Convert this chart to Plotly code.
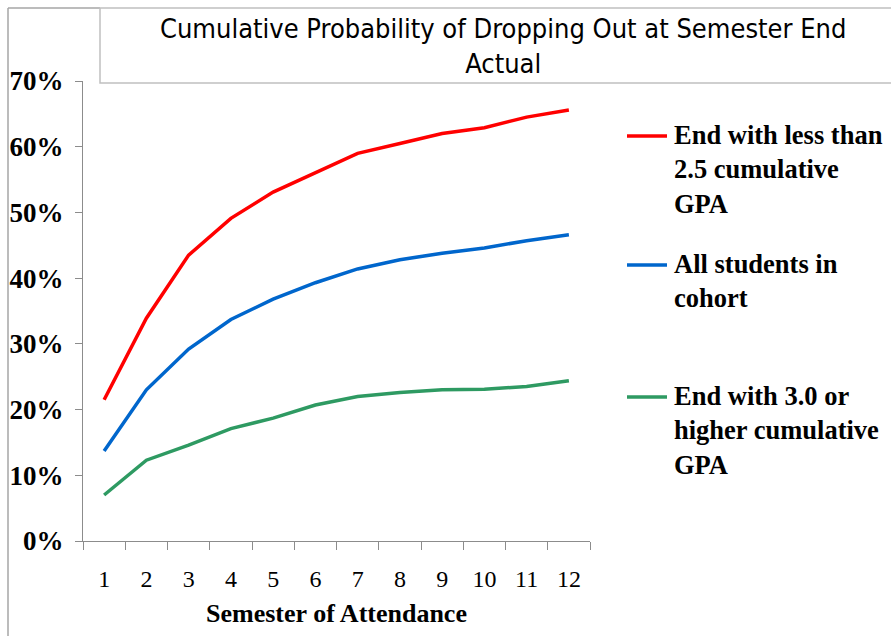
import plotly.graph_objects as go

semesters = ["1", "2", "3", "4", "5", "6", "7", "8", "9", "10", "11", "12"]
low_gpa = [0.215, 0.339, 0.435, 0.491, 0.531, 0.561, 0.590, 0.605, 0.620, 0.629, 0.645, 0.656]
all_students = [0.137, 0.230, 0.292, 0.337, 0.368, 0.393, 0.414, 0.428, 0.438, 0.446, 0.457, 0.466]
high_gpa = [0.070, 0.123, 0.146, 0.171, 0.187, 0.207, 0.220, 0.226, 0.230, 0.231, 0.235, 0.244]

names = ["End with less than<br>2.5 cumulative<br>GPA",
         "All students in<br>cohort",
         "End with 3.0 or<br>higher cumulative<br>GPA"]
colors = ["#FF0000", "#0066CC", "#2E9A62"]
series = [low_gpa, all_students, high_gpa]

W, H = 891, 636
L, R, T, B = 83, 590, 81, 541  # plot area in pixels


def px(x):
    return (x - L) / (R - L)


def py(y):
    return (B - y) / (B - T)


serif = "Liberation Serif, Times New Roman, serif"
narrow = "Liberation Sans Narrow, Arial Narrow, DejaVu Sans Condensed, sans-serif"

fig = go.Figure()
for s, n, c in zip(series, names, colors):
    fig.add_trace(go.Scatter(x=semesters, y=s, name=n.replace("<br>", " "), mode="lines",
                             line=dict(color=c, width=3.5), showlegend=False))

# legend drawn by hand so it does not push the right margin
leg_y = [136, 265, 397]
for n, c, yy in zip(names, colors, leg_y):
    fig.add_shape(type="line", xref="paper", yref="paper", x0=px(627), x1=px(667),
                  y0=py(yy), y1=py(yy), line=dict(color=c, width=3.5))
    fig.add_annotation(text="<b>" + n + "</b>", xref="paper", yref="paper",
                       x=px(672), y=py(yy - 18), xanchor="left", yanchor="top",
                       align="left", showarrow=False,
                       font=dict(family=serif, size=26.5, color="black"))

fig.update_xaxes(type="category", range=[-0.5, 11.5], automargin=False,
                 showline=True, linecolor="#8c8c8c", linewidth=1,
                 ticks="outside", tickson="boundaries", ticklen=8, tickcolor="#8c8c8c",
                 showgrid=False, ticklabelstandoff=16,
                 tickfont=dict(family=serif, size=24, color="black"),
                 title=dict(text="<b>Semester of Attendance</b>", standoff=13,
                            font=dict(family=serif, size=26, color="black")))
fig.update_yaxes(range=[0, 0.7], dtick=0.1, tickformat=".0%", automargin=False,
                 showline=True, linecolor="#8c8c8c", linewidth=1,
                 ticks="outside", ticklen=7, tickcolor="#8c8c8c",
                 showgrid=False, zeroline=False, ticklabelstandoff=6,
                 tickprefix="<b>", ticksuffix="</b>",
                 tickfont=dict(family=serif, size=27, color="black"))

# chart border and title box
fig.add_shape(type="line", xref="paper", yref="paper", x0=px(8), x1=px(8),
              y0=py(8), y1=py(H + 5), line=dict(color="#a6a6a6", width=1.5))
fig.add_shape(type="line", xref="paper", yref="paper", x0=px(8), x1=px(100),
              y0=py(8), y1=py(8), line=dict(color="#a6a6a6", width=1.5))
fig.add_shape(type="rect", xref="paper", yref="paper", x0=px(100), x1=px(W + 5),
              y0=py(83), y1=py(8), line=dict(color="#c0c0c0", width=1.5))

fig.add_annotation(text="Cumulative Probability of Dropping Out at Semester End<br>Actual",
                   xref="paper", yref="paper", x=px(503), y=py(46),
                   xanchor="center", yanchor="middle", showarrow=False,
                   font=dict(family=narrow, size=27, color="black"))

fig.update_layout(width=W, height=H, showlegend=False,
                  margin=dict(l=L, r=W - R, t=T, b=H - B),
                  paper_bgcolor="white", plot_bgcolor="white")

# the page body has a default 8px margin; remove it so the figure sits at 0,0
fig.write_html("out.html", config={"displayModeBar": False},
               post_script="document.body.style.margin='0';")
